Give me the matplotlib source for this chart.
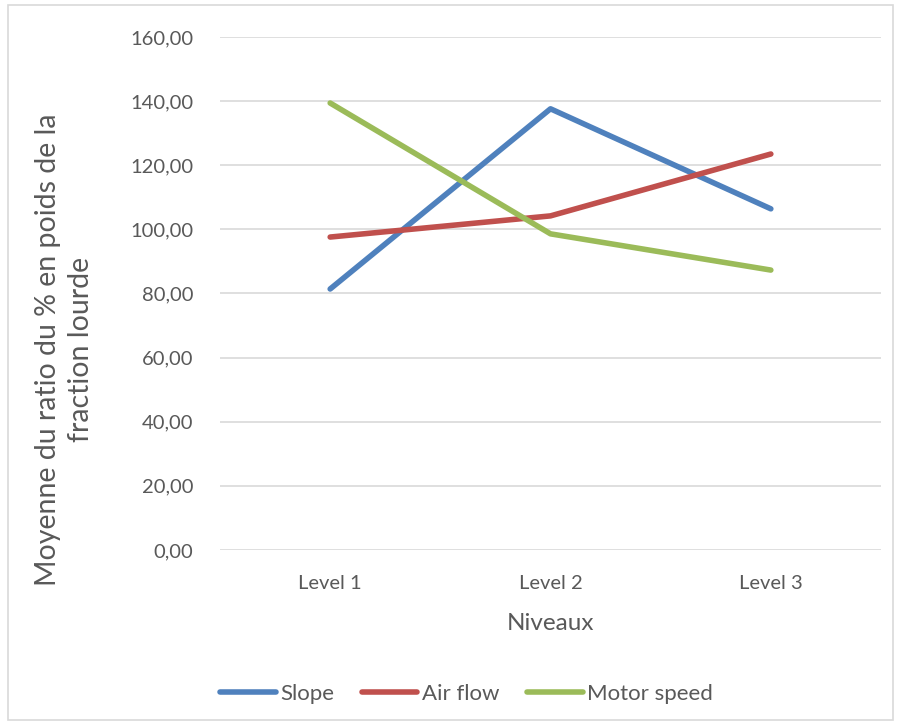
import matplotlib.pyplot as plt
from matplotlib.patches import Rectangle

plt.rcParams['font.family'] = ['Lato', 'DejaVu Sans']

levels = ['Level 1', 'Level 2', 'Level 3']
slope = [81.4, 137.6, 106.4]
air_flow = [97.6, 104.2, 123.5]
motor_speed = [139.4, 98.6, 87.3]
y_ticks = [0, 20, 40, 60, 80, 100, 120, 140, 160]

fig = plt.figure(figsize=(8.99, 7.25), dpi=100)
fig.patches.append(Rectangle((0.009, 0.007), 0.984, 0.986, transform=fig.transFigure,
                             fill=False, edgecolor='#d9d9d9', linewidth=1.2))
ax = fig.add_axes([0.2447, 0.2414, 0.7353, 0.7076])

x = range(len(levels))
ax.plot(x, slope, color='#4f81bd', linewidth=4, label='Slope', solid_capstyle='round')
ax.plot(x, air_flow, color='#c0504d', linewidth=4, label='Air flow', solid_capstyle='round')
ax.plot(x, motor_speed, color='#9bbb59', linewidth=4, label='Motor speed', solid_capstyle='round')

ax.set_xlim(-0.5, 2.5)
ax.set_ylim(0, 160)
ax.set_yticks(y_ticks)
ax.set_yticklabels([f'{v:.2f}'.replace('.', ',') for v in y_ticks])
ax.set_xticks(list(x))
ax.set_xticklabels(levels)
ax.grid(axis='y', color='#d9d9d9', linewidth=1.2)
ax.set_axisbelow(True)
for s in ax.spines.values():
    s.set_visible(False)
ax.tick_params(axis='both', length=0, labelsize=14.5, colors='#595959')
ax.tick_params(axis='y', pad=19)
ax.tick_params(axis='x', pad=18)

ax.set_xlabel('Niveaux', fontsize=17.5, color='#595959', labelpad=15)
ax.set_ylabel('Moyenne du ratio du % en poids de la\nfraction lourde', fontsize=20.5,
              color='#595959', linespacing=1.35)
ax.yaxis.set_label_coords(-0.19, 0.39)

ax.legend(loc='upper left', bbox_to_anchor=(-0.03, -0.222), ncol=3, frameon=False,
          fontsize=16, handlelength=2.5, handletextpad=0.2, columnspacing=1.25,
          labelcolor='#595959')

fig.savefig('out.png', dpi=100)
